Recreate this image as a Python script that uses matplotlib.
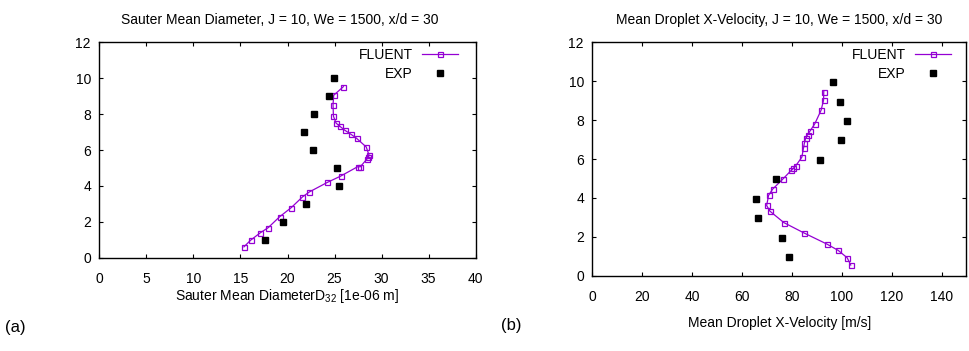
import matplotlib
matplotlib.use("Agg")
import matplotlib.pyplot as plt

plt.rcParams['font.family'] = ['Liberation Sans', 'DejaVu Sans']
plt.rcParams['mathtext.fontset'] = 'custom'
plt.rcParams['mathtext.rm'] = 'Liberation Sans'
plt.rcParams['mathtext.it'] = 'Liberation Sans'

PURPLE = '#9400d3'

# Panel (a): Sauter Mean Diameter
smd_fluent_x = [15.37, 16.08, 17.1, 17.95, 19.15, 20.39, 21.59, 22.33, 24.24, 25.65,
                27.45, 27.74, 28.41, 28.6, 28.66, 28.37, 27.35, 26.71, 26.07, 25.55,
                25.16, 24.88, 24.84, 24.91, 25.94]
smd_fluent_y = [0.61, 0.98, 1.39, 1.68, 2.28, 2.79, 3.39, 3.67, 4.2, 4.55,
                5.07, 5.07, 5.48, 5.6, 5.72, 6.17, 6.65, 6.89, 7.11, 7.33,
                7.5, 7.89, 8.53, 9.05, 9.53]
smd_exp_x = [17.56, 19.5, 22.01, 25.44, 25.3, 22.68, 21.77, 22.79, 24.45, 24.91]
smd_exp_y = [1, 2, 3, 4, 5, 6, 7, 8, 9, 10]

# Panel (b): Mean Droplet X-Velocity
vel_fluent_x = [103.6, 102.2, 98.6, 94.0, 85.0, 76.8, 71.2, 69.9, 70.7, 72.3,
                76.4, 79.8, 80.6, 81.5, 84.0, 84.7, 85.0, 85.5, 86.3, 87.4,
                89.2, 91.7, 92.7, 92.8]
vel_fluent_y = [0.55, 0.92, 1.3, 1.63, 2.19, 2.73, 3.32, 3.61, 4.14, 4.45,
                4.97, 5.42, 5.52, 5.64, 6.09, 6.58, 6.8, 7.06, 7.25, 7.46,
                7.81, 8.5, 9.01, 9.47]
vel_exp_x = [78.8, 76.0, 66.5, 65.5, 73.5, 91.3, 99.8, 102.0, 99.3, 96.5]
vel_exp_y = [0.96, 1.95, 2.96, 3.95, 4.96, 5.95, 6.96, 7.95, 8.94, 9.95]

smd_xticks = [0, 5, 10, 15, 20, 25, 30, 35, 40]
vel_xticks = [0, 20, 40, 60, 80, 100, 120, 140]
yticks = [0, 2, 4, 6, 8, 10, 12]

FS = 10

fig = plt.figure(figsize=(9.69, 3.51), dpi=100)
ax1 = fig.add_axes([0.1025, 0.2655, 0.3884, 0.614])
ax2 = fig.add_axes([0.6112, 0.2145, 0.3862, 0.665])

def style(ax):
    ax.tick_params(direction='in', top=True, right=True, length=3, width=0.8,
                   labelsize=FS, colors='black')
    ax.tick_params(axis='x', pad=10)
    ax.tick_params(axis='y', pad=6)
    for s in ax.spines.values():
        s.set_linewidth(1.0)
    ax.set_yticks(yticks)
    ax.set_ylim(0, 12)

def panel(ax, fx, fy, ex, ey, anchor):
    ax.plot(fx, fy, color=PURPLE, lw=0.9, marker='s', markersize=3.6,
            markerfacecolor='none', markeredgecolor=PURPLE, markeredgewidth=0.9,
            label='FLUENT')
    ax.plot(ex, ey, linestyle='none', marker='s', markersize=3.7, color='black',
            label='EXP')
    ax.legend(loc='upper right', bbox_to_anchor=anchor, frameon=False,
              markerfirst=False, fontsize=FS, handlelength=2.6,
              handletextpad=0.65, labelspacing=0.35, borderaxespad=0,
              borderpad=0)

panel(ax1, smd_fluent_x, smd_fluent_y, smd_exp_x, smd_exp_y, (0.953, 0.972))
style(ax1)
ax1.set_xlim(0, 40)
ax1.set_xticks(smd_xticks)
ax1.set_title('Sauter Mean Diameter, J = 10, We = 1500, x/d = 30', fontsize=FS, pad=13, x=0.48)
ax1.set_xlabel('Sauter Mean Diameter' + r'D$_{32}$' + ' [1e-06 m]', fontsize=FS, labelpad=1)

panel(ax2, vel_fluent_x, vel_fluent_y, vel_exp_x, vel_exp_y, (0.958, 0.975))
style(ax2)
ax2.set_xlim(0, 150)
ax2.set_xticks(vel_xticks)
ax2.set_title('Mean Droplet X-Velocity, J = 10, We = 1500, x/d = 30', fontsize=FS, pad=13)
ax2.set_xlabel('Mean Droplet X-Velocity [m/s]', fontsize=FS, labelpad=9)

fig.text(0.005, 0.068, '(a)', fontsize=12, ha='left', va='center')
fig.text(0.517, 0.074, '(b)', fontsize=12, ha='left', va='center')

fig.savefig('out.png', dpi=100)
